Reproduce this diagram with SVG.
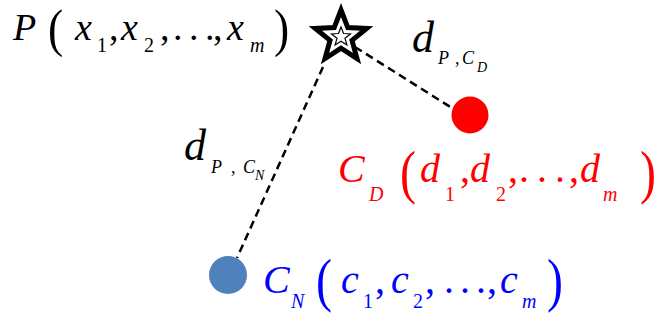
<svg xmlns="http://www.w3.org/2000/svg" width="664" height="320" viewBox="0 0 664 320">
<defs>
<style>
text{font-family:"Liberation Serif","DejaVu Serif",serif}
.k{fill:#000}
.r{fill:#ff0000}
.b{fill:#0000ff}
.dash{stroke:#000;stroke-width:2.5;stroke-dasharray:8 5;fill:none}
</style>
</defs>
<rect width="664" height="320" fill="#fff"/>
<g id="connectors">
<line class="dash" x1="355" y1="47" x2="452" y2="108"/>
<line class="dash" x1="323" y1="67" x2="237" y2="258"/>
</g>
<g id="P">
<path d="M341,10 L347.8,27.6 L366.7,28.5 L352,40.4 L357,58.5 L341,48.2 L325,58.5 L330,40.4 L315.3,28.5 L334.2,27.6 Z" fill="#fff" stroke="#000" stroke-width="5" stroke-linejoin="miter"/>
<path d="M341,27 L343.5,33.5 L350.5,34 L345,38.3 L346.9,45 L341,41.2 L335.1,45 L337,38.3 L331.5,34 L338.5,33.5 Z" fill="none" stroke="#000" stroke-width="1.2"/>
<g class="k" font-size="38">
<text x="13" y="40" font-style="italic">P</text>
<text transform="translate(48,45.7) scale(1.2,1.39)">(</text>
<text x="75" y="40" font-style="italic">x</text>
<text x="97" y="52" font-size="20">1</text>
<text x="109" y="40">,</text>
<text x="121" y="40" font-style="italic">x</text>
<text x="144" y="52" font-size="20">2</text>
<text x="160" y="40">,</text>
<text y="40"><tspan x="173">.</tspan><tspan x="189">.</tspan><tspan x="205">.</tspan></text>
<text x="213" y="40">,</text>
<text x="227" y="40" font-style="italic">x</text>
<text x="250" y="52" font-size="20" font-style="italic">m</text>
<text transform="translate(274,45.7) scale(1.2,1.39)">)</text>
</g>
</g>
<g id="dPCD" class="k" font-style="italic">
<text x="412" y="52" font-size="44">d</text>
<text x="438" y="64" font-size="18">P</text>
<text x="455" y="64" font-size="18" font-style="normal">,</text>
<text x="462" y="64" font-size="18">C</text>
<text x="477" y="72" font-size="14">D</text>
</g>
<g id="dPCN" class="k" font-style="italic">
<text x="184" y="160" font-size="44">d</text>
<text x="211" y="173" font-size="18">P</text>
<text x="231" y="173" font-size="18" font-style="normal">,</text>
<text x="243" y="173" font-size="18">C</text>
<text x="255" y="180" font-size="14">N</text>
</g>
<g id="CD">
<circle cx="470" cy="115" r="18.5" fill="#ff0000"/>
<g class="r" font-size="40">
<text x="338" y="182" font-style="italic">C</text>
<text x="369" y="201" font-size="20" font-style="italic">D</text>
<text transform="translate(400,192.3) scale(1.2,1.49)">(</text>
<text x="420" y="182" font-style="italic">d</text>
<text x="445" y="201" font-size="20">1</text>
<text x="460" y="182">,</text>
<text x="470" y="182" font-style="italic">d</text>
<text x="496" y="201" font-size="20">2</text>
<text x="508" y="182">,</text>
<text y="182"><tspan x="519">.</tspan><tspan x="537">.</tspan><tspan x="555">.</tspan></text>
<text x="569" y="182">,</text>
<text x="580" y="182" font-style="italic">d</text>
<text x="603" y="201" font-size="20" font-style="italic">m</text>
<text transform="translate(640,192.3) scale(1.2,1.49)">)</text>
</g>
</g>
<g id="CN">
<circle cx="228" cy="275" r="19" fill="#4f81bd"/>
<g class="b" font-size="40">
<text x="263" y="293" font-style="italic">C</text>
<text x="291" y="308" font-size="20" font-style="italic">N</text>
<text transform="translate(316,300.3) scale(1.2,1.49)">(</text>
<text x="341" y="293" font-style="italic">c</text>
<text x="363" y="308" font-size="20">1</text>
<text x="375" y="293">,</text>
<text x="391" y="293" font-style="italic">c</text>
<text x="413" y="308" font-size="20">2</text>
<text x="425" y="293">,</text>
<text y="293"><tspan x="444">.</tspan><tspan x="460">.</tspan><tspan x="476">.</tspan></text>
<text x="487" y="293">,</text>
<text x="500" y="293" font-style="italic">c</text>
<text x="522" y="308" font-size="20" font-style="italic">m</text>
<text transform="translate(547,300.3) scale(1.2,1.49)">)</text>
</g>
</g>
</svg>
